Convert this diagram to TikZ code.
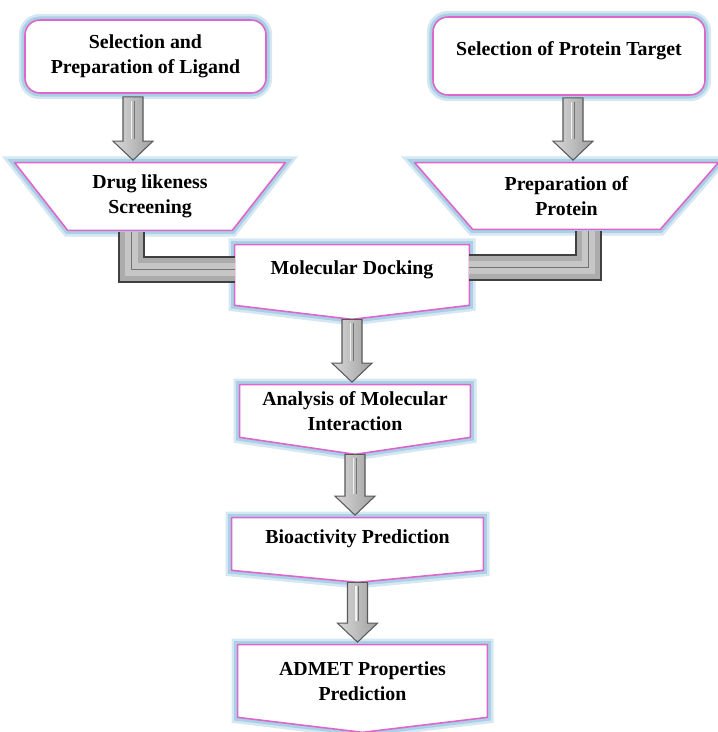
\documentclass[tikz,border=0pt]{standalone}
\usepackage{fontspec}
\setmainfont{Liberation Serif}
\usepackage{tikz}
\usetikzlibrary{arrows.meta,positioning,calc,backgrounds}
\definecolor{pinkedge}{HTML}{DD66CC}
\definecolor{glow}{HTML}{A9D0E4}
\newcommand{\blockarrow}[2]{%
  \draw[blk] let \p1=(#1), \p2=(#2) in
    (\x1-0.2cm,\y1) -- (\x1+0.2cm,\y1) -- (\x1+0.2cm,\y2+0.43cm)
    -- (\x1+0.4cm,\y2+0.43cm) -- (\x1,\y2+0.05cm) -- (\x1-0.4cm,\y2+0.43cm)
    -- (\x1-0.2cm,\y2+0.43cm) -- cycle;
  \draw[blkhi] let \p1=(#1), \p2=(#2) in
    (\x1-0.03cm,\y1-0.08cm) -- (\x1-0.03cm,\y2+0.47cm);
  \draw[blkln] let \p1=(#1), \p2=(#2) in
    (\x1+0.02cm,\y1-0.08cm) -- (\x1+0.02cm,\y2+0.47cm);
}

\begin{document}
\begin{tikzpicture}[
  font=\fontsize{11.3}{14.4}\selectfont\bfseries,
  box/.style={align=center, inner sep=0pt},
  outl/.style={draw=pinkedge, line width=0.9pt, fill=white, line join=round,
    preaction={draw=glow!50, line width=7pt}, preaction={draw=glow, line width=4pt}},
  hi/.style={text height=8pt, text depth=8.5pt},
  blk/.style={draw=black!65, line width=0.6pt, left color=gray!30, right color=gray!75},
  blkhi/.style={draw=white!90!gray, line width=0.8pt},
  blkln/.style={draw=black!55, line width=0.5pt},
  elb/.style={line width=0.46cm, draw=gray!65, preaction={draw=black!75, line width=0.54cm},
    postaction={draw=gray!45, line width=0.26cm}, postaction={draw=black!55, line width=0.5pt}}]
  \useasboundingbox (0,0) rectangle (14.36,-14.64);
  % top row
  \node[box, outl, rounded corners=0.3cm, minimum width=4.82cm, minimum height=1.46cm] (lig) at (2.91,-1.13) {Selection and\\Preparation of Ligand};
  \node[box, outl, rounded corners=0.3cm, minimum width=5.44cm, minimum height=1.56cm, hi] (tgt) at (11.38,-1.12) {Selection of Protein Target};
  \node[box, minimum width=5.40cm, minimum height=1.34cm] (drug) at (3.00,-3.93) {Drug likeness\\Screening};
  \node[box, minimum width=6.06cm, minimum height=1.32cm] (prep) at (11.33,-3.92) {Preparation of\\Protein};
  % main chain
  \node[box, minimum width=4.68cm, minimum height=1.20cm, hi] (dock) at (7.04,-5.50) {Molecular Docking};
  \node[box, minimum width=4.60cm, minimum height=1.04cm] (ana) at (7.10,-8.22) {Analysis of Molecular\\Interaction};
  \node[box, minimum width=5.02cm, minimum height=1.04cm, hi] (bio) at (7.15,-10.88) {Bioactivity Prediction};
  \node[box, minimum width=4.98cm, minimum height=1.44cm] (adm) at (7.25,-13.62) {ADMET Properties\\Prediction};
  \coordinate (dock tip) at ($(dock.south)+(0,-0.28)$);
  \coordinate (ana tip) at ($(ana.south)+(0,-0.34)$);
  \coordinate (bio tip) at ($(bio.south)+(0,-0.24)$);
  \coordinate (adm tip) at ($(adm.south)+(0,-0.30)$);
  \begin{scope}[on background layer]
    \draw[outl] (drug.north west) -- (drug.north east) -- ($(drug.south east)+(-1.06,0)$) -- ($(drug.south west)+(1.06,0)$) -- cycle;
    \draw[outl] (prep.north west) -- (prep.north east) -- ($(prep.south east)+(-1.16,0)$) -- ($(prep.south west)+(1.16,0)$) -- cycle;
    \draw[outl] (dock.north west) -- (dock.north east) -- (dock.south east) -- (dock tip) -- (dock.south west) -- cycle;
    \draw[outl] (ana.north west) -- (ana.north east) -- (ana.south east) -- (ana tip) -- (ana.south west) -- cycle;
    \draw[outl] (bio.north west) -- (bio.north east) -- (bio.south east) -- (bio tip) -- (bio.south west) -- cycle;
    \draw[outl] (adm.north west) -- (adm.north east) -- (adm.south east) -- (adm tip) -- (adm.south west) -- cycle;
  \end{scope}
  % connectors
  \blockarrow{$(lig.south)+(-0.25,-0.06)$}{drug.north}
  \blockarrow{$(tgt.south)+(0.08,-0.04)$}{prep.north}
  \draw[elb] ($(drug.south)+(-0.38,-0.04)$) |- ($(dock.west)+(0,0.12)$);
  \draw[elb] ($(prep.south)+(0.44,-0.04)$) |- ($(dock.east)+(0,0.16)$);
  \blockarrow{dock tip}{ana.north}
  \blockarrow{ana tip}{bio.north}
  \blockarrow{bio tip}{adm.north}
\end{tikzpicture}
\end{document}
